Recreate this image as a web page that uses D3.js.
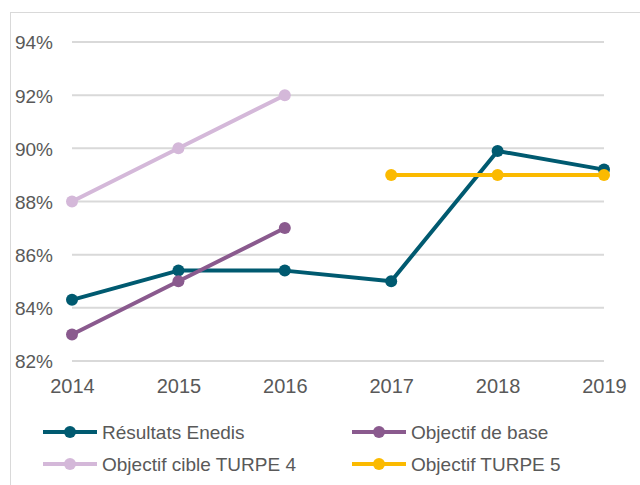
<!DOCTYPE html>
<html><head><meta charset="utf-8">
<script src="https://cdn.jsdelivr.net/npm/d3@7"></script>
<style>body{margin:0;background:#fff}svg{display:block}</style>
</head><body>
<script>
const years = [2014, 2015, 2016, 2017, 2018, 2019];
const yTicks = [82, 84, 86, 88, 90, 92, 94];
const resultatsEnedis = [84.3, 85.4, 85.4, 85.0, 89.9, 89.2];
const objectifBase = [83, 85, 87, null, null, null];
const objectifCibleTurpe4 = [88, 90, 92, null, null, null];
const objectifTurpe5 = [null, null, null, 89, 89, 89];
const seriesNames = ["Résultats Enedis", "Objectif de base", "Objectif cible TURPE 4", "Objectif TURPE 5"];
const seriesColors = ["#005A70", "#8A5A8E", "#D4B8D9", "#FBBA00"];

const series = [resultatsEnedis, objectifBase, objectifCibleTurpe4, objectifTurpe5];
const W = 640, H = 485;
const svg = d3.select("body").append("svg").attr("width", W).attr("height", H);
const font = "'Liberation Sans', Arial, sans-serif";

svg.append("rect").attr("x", 10.5).attr("y", 12.5).attr("width", 700).attr("height", 600)
  .attr("fill", "#fff").attr("stroke", "#d9d9d9").attr("stroke-width", 1);

const x = d3.scalePoint().domain(years).range([72, 604]);
const y = d3.scaleLinear().domain([82, 94]).range([361, 42]);

// gridlines
svg.append("g").selectAll("line").data(yTicks).join("line")
  .attr("x1", 72).attr("x2", 604)
  .attr("y1", d => y(d)).attr("y2", d => y(d))
  .attr("stroke", "#d9d9d9").attr("stroke-width", 2);

// y axis
const yAxis = svg.append("g").attr("transform", "translate(53,0)")
  .call(d3.axisLeft(y).tickValues(yTicks).tickFormat(d => d + "%").tickSize(0).tickPadding(0));
yAxis.select(".domain").remove();
yAxis.selectAll("text").attr("font-family", font).attr("font-size", 19).attr("fill", "#595959").attr("dy", "0.36em");

// x axis
const xAxis = svg.append("g").attr("transform", "translate(0,393)")
  .call(d3.axisBottom(x).tickSize(0).tickPadding(0));
xAxis.select(".domain").remove();
xAxis.selectAll("text").attr("font-family", font).attr("font-size", 20).attr("fill", "#595959").attr("y", 0).attr("dy", "0");

const line = d3.line().defined(d => d.v != null).x(d => x(d.year)).y(d => y(d.v));
series.forEach((s, i) => {
  const pts = years.map((yr, j) => ({year: yr, v: s[j]}));
  const g = svg.append("g");
  g.append("path").datum(pts).attr("d", line).attr("fill", "none")
    .attr("stroke", seriesColors[i]).attr("stroke-width", 4).attr("stroke-linejoin", "round");
  g.selectAll("circle").data(pts.filter(d => d.v != null)).join("circle")
    .attr("cx", d => x(d.year)).attr("cy", d => y(d.v)).attr("r", 6).attr("fill", seriesColors[i]);
});

// legend
const legPos = [[43, 432], [352, 432], [43, 464], [352, 464]];
seriesNames.forEach((name, i) => {
  const [lx, ly] = legPos[i];
  const g = svg.append("g").attr("transform", `translate(${lx},${ly})`);
  g.append("line").attr("x1", 0).attr("x2", 54).attr("y1", 0).attr("y2", 0)
    .attr("stroke", seriesColors[i]).attr("stroke-width", 4);
  g.append("circle").attr("cx", 27).attr("cy", 0).attr("r", 6).attr("fill", seriesColors[i]);
  g.append("text").attr("x", 59).attr("y", 0).attr("dy", "0.36em").text(name)
    .attr("font-family", font).attr("font-size", 19).attr("fill", "#595959");
});
</script>
</body></html>
